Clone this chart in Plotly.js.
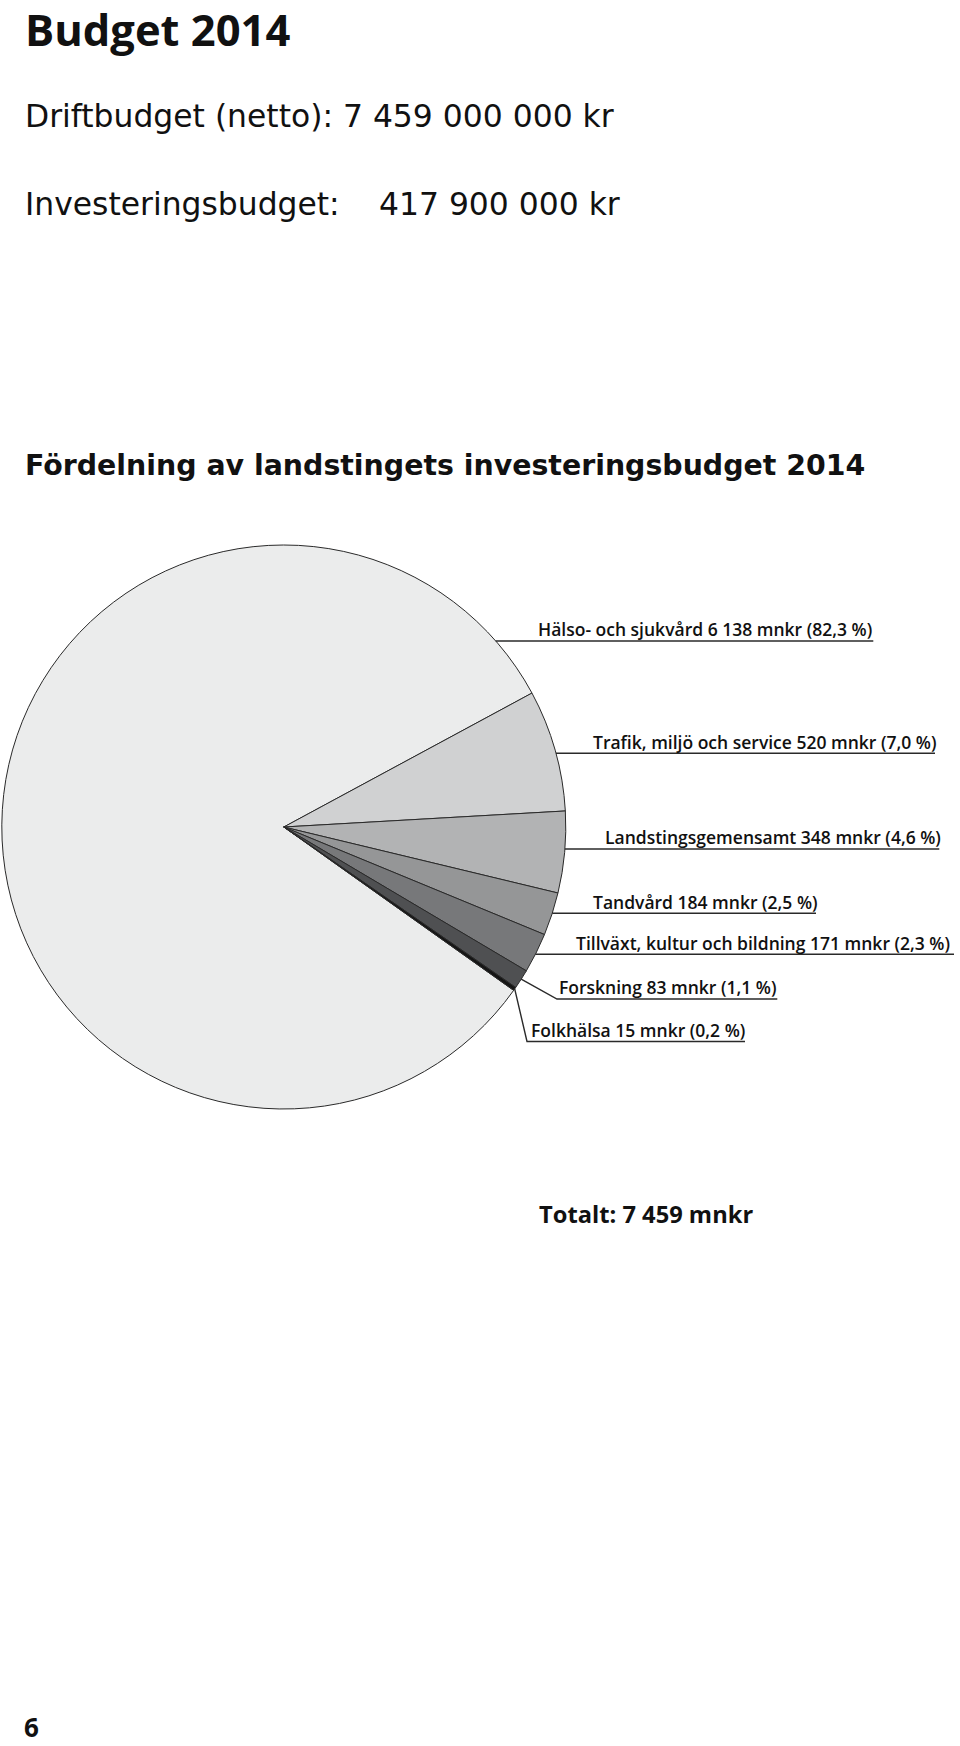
<!DOCTYPE html>
<html><head><meta charset="utf-8">
<script src="https://cdn.plot.ly/plotly-3.0.1.min.js"></script>
<style>html,body{margin:0;padding:0;background:#fff}</style>
</head><body><div id="chart" style="width:960px;height:1746px"></div>
<script>
// ---- data ----
const categories = ["Hälso- och sjukvård", "Trafik, miljö och service", "Landstingsgemensamt", "Tandvård", "Tillväxt, kultur och bildning", "Forskning", "Folkhälsa"];
const valuesMnkr = [6138, 520, 348, 184, 171, 83, 15];
const percentLabels = ["82,3", "7,0", "4,6", "2,5", "2,3", "1,1", "0,2"];
const pageTitle = "Budget 2014";
const driftText = "Driftbudget (netto): 7 459 000 000 kr";
const investLabel = "Investeringsbudget:";
const investValue = "417 900 000 kr";
const chartTitle = "Fördelning av landstingets investeringsbudget 2014";
const pageNumber = "6";

// ---- styles / layout ----
const sliceColors = ["#ebecec", "#d0d1d2", "#b2b3b4", "#959697", "#77787a", "#4f5052", "#151515"];
const W = 960, H = 1746;
const cx = 283.8, cy = 827, R = 282, rotationDeg = 125.4;
const labelLineY = [641, 753.3, 849, 913.3, 954.3, 999, 1041.5];
const labelTextLeft = [538.3, 593.3, 605, 592.7, 576, 559.3, 530.7];
const labelLineEnd = [873.3, 935, 939.3, 816, 954, 777.3, 745];
const labelElbowX = [null, null, null, null, null, 557, 527];
const OPEN = "'Open Sans', 'Noto Sans', sans-serif";
const DEJAVU = "'DejaVu Sans', 'Open Sans', sans-serif";
const ink = "#111";

const px = x => x / W;
const py = y => 1 - y / H;
const fmt = v => String(v).replace(/\B(?=(\d{3})+(?!\d))/g, " ");
const total = valuesMnkr.reduce((a, b) => a + b, 0);

const trace = {
  type: "pie",
  values: valuesMnkr,
  labels: categories,
  sort: false,
  direction: "clockwise",
  rotation: rotationDeg,
  textinfo: "none",
  textposition: "none",
  hoverinfo: "none",
  marker: { colors: sliceColors, line: { color: "#2a2a2a", width: 1 } },
  domain: { x: [px(cx - R), px(cx + R)], y: [py(cy + R), py(cy - R)] },
  showlegend: false
};

const annotations = [];
const shapes = [];
function txt(text, xLeft, yCenter, size, weight, family) {
  annotations.push({
    text: text, xref: "paper", yref: "paper", x: px(xLeft), y: py(yCenter),
    xanchor: "left", yanchor: "middle", showarrow: false,
    borderpad: 0, borderwidth: 0,
    font: { family: family || OPEN, size: size, color: ink, weight: weight }
  });
}
txt(pageTitle, 25, 29.8, 43.5, 700);
txt(driftText, 25, 116, 31.4, 400, DEJAVU);
txt(investLabel, 25, 203.5, 31.4, 400, DEJAVU);
txt(investValue, 379, 203.5, 31.4, 400, DEJAVU);
txt(chartTitle, 25, 466, 28.4, 700, DEJAVU);
txt("Totalt: " + fmt(total) + " mnkr", 539, 1214, 23.7, 700);
txt(pageNumber, 24, 1727, 26, 700);

let cum = 0;
valuesMnkr.forEach((v, i) => {
  const midFrac = (cum + v / 2) / total;
  cum += v;
  const a = (rotationDeg + 360 * midFrac) * Math.PI / 180;
  const y = labelLineY[i];
  let path;
  if (labelElbowX[i] !== null) {
    const sx = cx + R * Math.sin(a), sy = cy - R * Math.cos(a);
    path = `M${px(sx)},${py(sy)} L${px(labelElbowX[i])},${py(y)} L${px(labelLineEnd[i])},${py(y)}`;
  } else {
    const sx = cx + Math.sqrt(R * R - (y - cy) * (y - cy));
    path = `M${px(sx)},${py(y)} L${px(labelLineEnd[i])},${py(y)}`;
  }
  shapes.push({ type: "path", xref: "paper", yref: "paper", path: path, line: { color: "#2a2a2a", width: 1.4 } });
  txt(categories[i] + " " + fmt(v) + " mnkr (" + percentLabels[i] + " %)", labelTextLeft[i], y - 11.8, 17.5, 600);
});

const layout = {
  width: W, height: H,
  margin: { l: 0, r: 0, t: 0, b: 0, pad: 0 },
  paper_bgcolor: "#fff", plot_bgcolor: "#fff",
  showlegend: false,
  annotations: annotations,
  shapes: shapes
};
Plotly.newPlot("chart", [trace], layout, { staticPlot: true, displayModeBar: false });
</script></body></html>
